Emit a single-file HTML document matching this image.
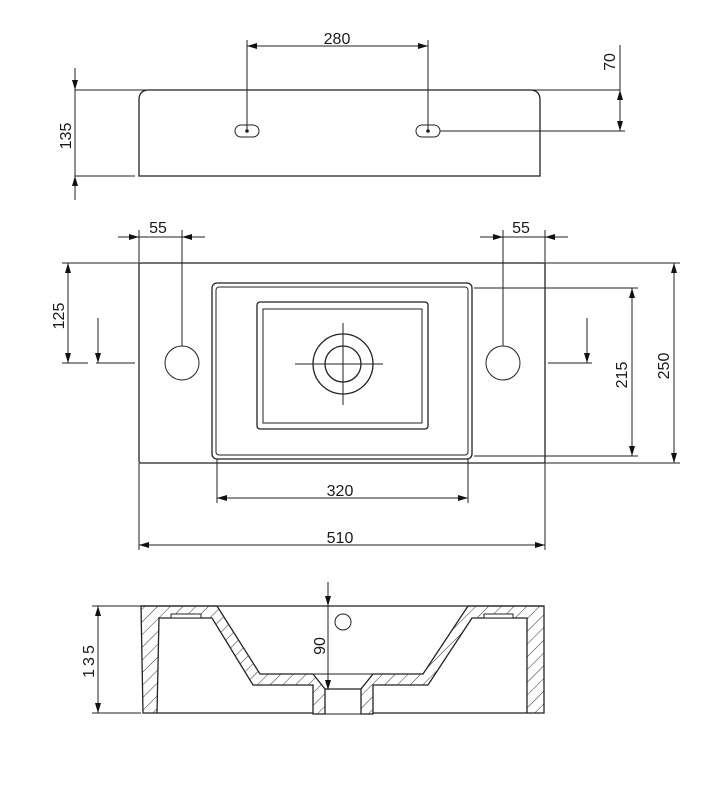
<!DOCTYPE html>
<html><head><meta charset="utf-8"><style>
html,body{margin:0;padding:0;background:#fff}
svg{display:block}
text{font-family:"Liberation Sans Narrow","Liberation Sans",sans-serif;font-size:16px;fill:#1a1a1a}
</style></head><body>
<svg width="724" height="793" viewBox="0 0 724 793" xmlns="http://www.w3.org/2000/svg">
<defs>
<marker id="a" viewBox="0 0 10 6" refX="10" refY="3" markerWidth="11" markerHeight="6" markerUnits="userSpaceOnUse" orient="auto-start-reverse"><path d="M0,0 L10,3 L0,6z" fill="#111"/></marker>
<pattern id="h" width="9" height="9" patternUnits="userSpaceOnUse" patternTransform="rotate(45)"><line x1="0" y1="0" x2="0" y2="9" stroke="#333" stroke-width="1"/></pattern>
</defs>
<g stroke="#222" fill="none" stroke-width="1">
<path d="M139,176 V100 Q139,90 149,90 H530 Q540,90 540,100 V176 Z" stroke-width="1.3"/>
<line x1="75" y1="90" x2="620" y2="90"/>
<line x1="75" y1="176" x2="135" y2="176"/>
<line x1="75" y1="68" x2="75" y2="200" />
<line x1="75" y1="68" x2="75" y2="90" marker-end="url(#a)"/>
<line x1="75" y1="198" x2="75" y2="176" marker-end="url(#a)"/>
<rect x="235" y="125" width="24" height="12" rx="6"/>
<rect x="416" y="125" width="24" height="12" rx="6"/>
<circle cx="247" cy="131" r="1.3" fill="#111"/>
<circle cx="428" cy="131" r="1.3" fill="#111"/>
<line x1="247" y1="40" x2="247" y2="131"/>
<line x1="428" y1="40" x2="428" y2="131"/>
<line x1="247" y1="46" x2="428" y2="46" marker-start="url(#a)" marker-end="url(#a)"/>
<line x1="440" y1="131" x2="625" y2="131"/>
<line x1="620" y1="45" x2="620" y2="131"/>
<line x1="620" y1="90" x2="620" y2="131" marker-start="url(#a)" marker-end="url(#a)"/>

<rect x="139" y="263" width="406" height="200" rx="2" stroke-width="1.3"/>
<rect x="212" y="283" width="260" height="176" rx="5" stroke-width="1.3"/>
<rect x="216" y="287" width="252" height="168" rx="3"/>
<rect x="257" y="302" width="171" height="127" rx="3" stroke-width="1.3"/>
<rect x="263" y="309" width="159" height="114"/>
<circle cx="343" cy="364" r="30" stroke-width="1.3"/>
<circle cx="343" cy="364" r="18" stroke-width="1.3"/>
<line x1="295" y1="364" x2="383" y2="364"/>
<line x1="343" y1="323" x2="343" y2="405"/>
<circle cx="182" cy="363" r="17"/>
<circle cx="503" cy="363" r="17"/>
<line x1="139" y1="230" x2="139" y2="263"/>
<line x1="182" y1="230" x2="182" y2="346"/>
<line x1="118" y1="237" x2="139" y2="237" marker-end="url(#a)"/>
<line x1="205" y1="237" x2="182" y2="237" marker-end="url(#a)"/>
<line x1="139" y1="237" x2="182" y2="237"/>
<line x1="545" y1="230" x2="545" y2="263"/>
<line x1="503" y1="230" x2="503" y2="346"/>
<line x1="480" y1="237" x2="503" y2="237" marker-end="url(#a)"/>
<line x1="568" y1="237" x2="545" y2="237" marker-end="url(#a)"/>
<line x1="503" y1="237" x2="545" y2="237"/>
<line x1="62" y1="263" x2="139" y2="263"/>
<line x1="62" y1="363" x2="88" y2="363"/>
<line x1="96" y1="363" x2="135" y2="363"/>
<line x1="68" y1="263" x2="68" y2="363" marker-start="url(#a)" marker-end="url(#a)"/>
<line x1="98" y1="318" x2="98" y2="363" marker-end="url(#a)"/>
<line x1="548" y1="363" x2="592" y2="363"/>
<line x1="587" y1="318" x2="587" y2="363" marker-end="url(#a)"/>
<line x1="474" y1="288" x2="638" y2="288"/>
<line x1="474" y1="456" x2="638" y2="456"/>
<line x1="632" y1="288" x2="632" y2="456" marker-start="url(#a)" marker-end="url(#a)"/>
<line x1="545" y1="263" x2="680" y2="263"/>
<line x1="545" y1="463" x2="680" y2="463"/>
<line x1="674" y1="263" x2="674" y2="463" marker-start="url(#a)" marker-end="url(#a)"/>
<line x1="217" y1="459" x2="217" y2="503"/>
<line x1="468" y1="459" x2="468" y2="503"/>
<line x1="217" y1="498" x2="468" y2="498" marker-start="url(#a)" marker-end="url(#a)"/>
<line x1="139" y1="463" x2="139" y2="550"/>
<line x1="545" y1="463" x2="545" y2="550"/>
<line x1="139" y1="545" x2="545" y2="545" marker-start="url(#a)" marker-end="url(#a)"/>

<path d="M141,606 L217,606 L260,674 L313,674 L325,689 L325,714 L313,714 L313,685 L253,685 L212,618 L159,618 L157,713 L143,713 Z" fill="url(#h)" stroke-width="1.3"/>
<path d="M468,606 L544,606 L544,713 L527,713 L527,618 L472,618 L428,685 L373,685 L373,714 L361,714 L361,689 L373,674 L423,674 Z" fill="url(#h)" stroke-width="1.3"/>
<line x1="141" y1="606" x2="544" y2="606" stroke-width="1.3"/>
<line x1="157" y1="713" x2="313" y2="713" stroke-width="1.3"/>
<line x1="373" y1="713" x2="527" y2="713" stroke-width="1.3"/>
<line x1="313" y1="674" x2="373" y2="674"/>
<line x1="325" y1="689" x2="361" y2="689" stroke-width="1.3"/>
<line x1="325" y1="714" x2="361" y2="714"/>
<rect x="171" y="614" width="30" height="4" fill="#fff"/>
<rect x="484" y="614" width="29" height="4" fill="#fff"/>
<circle cx="343" cy="622" r="8"/>
<line x1="328" y1="582" x2="328" y2="606" marker-end="url(#a)"/>
<line x1="328" y1="606" x2="328" y2="690" marker-end="url(#a)"/>
<line x1="92" y1="606" x2="141" y2="606"/>
<line x1="92" y1="713" x2="141" y2="713"/>
<line x1="98" y1="606" x2="98" y2="713" marker-start="url(#a)" marker-end="url(#a)"/>
</g>
<g>
<text x="337" y="44" text-anchor="middle">280</text>
<text transform="translate(615,62) rotate(-90)" text-anchor="middle">70</text>
<text transform="translate(71,136) rotate(-90)" text-anchor="middle">135</text>
<text x="158" y="233" text-anchor="middle">55</text>
<text x="521" y="233" text-anchor="middle">55</text>
<text transform="translate(64,316) rotate(-90)" text-anchor="middle">125</text>
<text transform="translate(627,375) rotate(-90)" text-anchor="middle">215</text>
<text transform="translate(669,366) rotate(-90)" text-anchor="middle">250</text>
<text x="340" y="496" text-anchor="middle">320</text>
<text x="340" y="543" text-anchor="middle">510</text>
<text transform="translate(325,646) rotate(-90)" text-anchor="middle">90</text>
<text transform="translate(94,660) rotate(-90)" text-anchor="middle" letter-spacing="3">135</text>
</g>
</svg>
</body></html>
